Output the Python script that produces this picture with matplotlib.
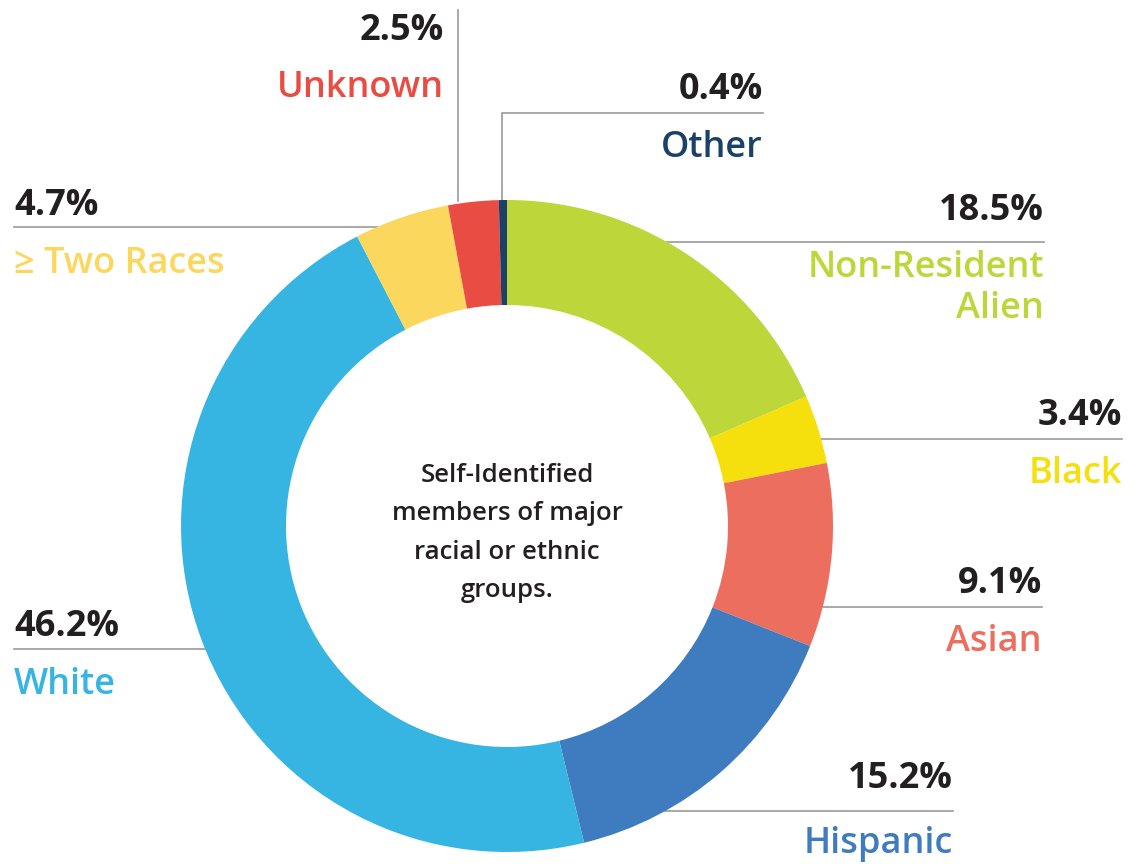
import numpy as np
import matplotlib
matplotlib.use("Agg")
from matplotlib import pyplot as plt

plt.rcParams['font.family'] = ['Open Sans', 'DejaVu Sans']

groups = ['Non-Resident\nAlien', 'Black', 'Asian', 'Hispanic', 'White',
          '≥ Two Races', 'Unknown', 'Other']
shares = [18.5, 3.4, 9.1, 15.2, 46.2, 4.7, 2.5, 0.4]
colors = ['#BDD63A', '#F5DF0C', '#EC6E5E', '#3F7CBF', '#36B4E2',
          '#FBD75E', '#E84C43', '#1A4168']
center_note = "Self-Identified\nmembers of major\nracial or ethnic\ngroups."

W, H = 1147, 864
cx, cy, R = 507, 526, 326
dark = '#231F20'
grey = '#9A9A9A'

fig = plt.figure(figsize=(W / 100, H / 100), dpi=100)
ax = fig.add_axes([0, 0, 1, 1])

ax.pie(shares, colors=colors, startangle=90, counterclock=False,
       radius=R, center=(cx, H - cy),
       wedgeprops=dict(width=105, linewidth=0))
ax.set_xlim(0, W)
ax.set_ylim(0, H)
ax.axis('off')


def Y(y):
    return H - y


def edge_x(y, side):
    dy = abs(y - cy)
    return cx + side * np.sqrt(max(R ** 2 - dy ** 2, 0))


# label layout: (line y, line end x, side, pct baseline, name baseline)
layout = {
    'Non-Resident\nAlien': (242, 1044, 1, 220, 277),
    'Black': (439, 1122, 1, 425, 483),
    'Asian': (607, 1042, 1, 593, 651),
    'Hispanic': (811, 953, 1, 788, 853),
    'White': (649, 14, -1, 636, 694),
    '≥ Two Races': (227, 14, -1, 215, 273),
}

fs_pct = 26
fs_name = 26
name_w = 'semibold'
for name, pct, col in zip(groups, shares, colors):
    if name not in layout:
        continue
    ly, lx, side, pb, nb = layout[name]
    x0 = edge_x(ly, side)
    ax.plot([x0, lx], [Y(ly), Y(ly)], color=grey, lw=1.2, zorder=0)
    ha = 'right' if side > 0 else 'left'
    ax.text(lx, Y(pb), f"{pct}%", ha=ha, va='baseline', fontsize=fs_pct,
            fontweight='bold', color=dark)
    lines = name.split('\n')
    for i, ln in enumerate(lines):
        ax.text(lx, Y(nb + i * 41), ln, ha=ha, va='baseline',
                fontsize=fs_name, color=col, fontweight=name_w)

# Unknown: vertical leader
ax.plot([458, 458], [Y(10), Y(201)], color=grey, lw=1.2, zorder=0)
ax.text(444, Y(40), f"{shares[6]}%", ha='right', va='baseline',
        fontsize=fs_pct, fontweight='bold', color=dark)
ax.text(444, Y(97), groups[6], ha='right', va='baseline',
        fontsize=fs_name, color=colors[6], fontweight=name_w)

# Other: elbow leader
ax.plot([502, 502, 763], [Y(201), Y(113), Y(113)], color=grey, lw=1.2,
        zorder=0)
ax.text(763, Y(99), f"{shares[7]}%", ha='right', va='baseline',
        fontsize=fs_pct, fontweight='bold', color=dark)
ax.text(763, Y(157), groups[7], ha='right', va='baseline',
        fontsize=fs_name, color=colors[7], fontweight=name_w)

ax.text(cx, Y(533), center_note, ha='center', va='center', fontsize=18.5,
        color=dark, linespacing=1.7, fontweight='semibold')

fig.savefig('out.png', dpi=100)
